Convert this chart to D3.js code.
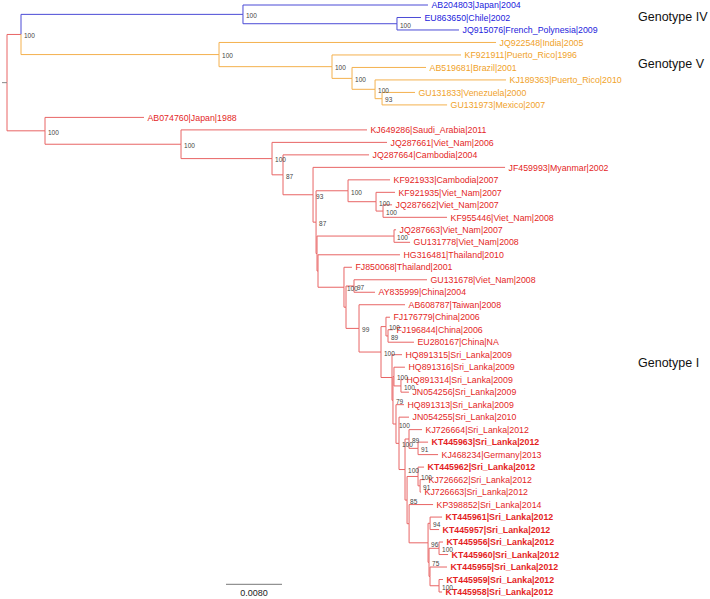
<!DOCTYPE html>
<html><head><meta charset="utf-8">
<script src="https://cdn.jsdelivr.net/npm/d3@7"></script>
<style>body{margin:0;background:#fff}svg{display:block}</style>
</head><body>
<svg id="c" width="710" height="599"></svg>
<script>
// Leaf labels, top to bottom
const taxa = [
"AB204803|Japan|2004","EU863650|Chile|2002","JQ915076|French_Polynesia|2009",
"JQ922548|India|2005","KF921911|Puerto_Rico|1996","AB519681|Brazil|2001",
"KJ189363|Puerto_Rico|2010","GU131833|Venezuela|2000","GU131973|Mexico|2007",
"AB074760|Japan|1988","KJ649286|Saudi_Arabia|2011","JQ287661|Viet_Nam|2006",
"JQ287664|Cambodia|2004","JF459993|Myanmar|2002","KF921933|Cambodia|2007",
"KF921935|Viet_Nam|2007","JQ287662|Viet_Nam|2007","KF955446|Viet_Nam|2008",
"JQ287663|Viet_Nam|2007","GU131778|Viet_Nam|2008","HG316481|Thailand|2010",
"FJ850068|Thailand|2001","GU131678|Viet_Nam|2008","AY835999|China|2004",
"AB608787|Taiwan|2008","FJ176779|China|2006","FJ196844|China|2006",
"EU280167|China|NA","HQ891315|Sri_Lanka|2009","HQ891316|Sri_Lanka|2009",
"HQ891314|Sri_Lanka|2009","JN054256|Sri_Lanka|2009","HQ891313|Sri_Lanka|2009",
"JN054255|Sri_Lanka|2010","KJ726664|Sri_Lanka|2012","KT445963|Sri_Lanka|2012",
"KJ468234|Germany|2013","KT445962|Sri_Lanka|2012","KJ726662|Sri_Lanka|2012",
"KJ726663|Sri_Lanka|2012","KP398852|Sri_Lanka|2014","KT445961|Sri_Lanka|2012",
"KT445957|Sri_Lanka|2012","KT445956|Sri_Lanka|2012","KT445960|Sri_Lanka|2012",
"KT445955|Sri_Lanka|2012","KT445959|Sri_Lanka|2012","KT445958|Sri_Lanka|2012"
];
const boldTaxa = ["KT445963","KT445962","KT445961","KT445957","KT445956","KT445960","KT445955","KT445959","KT445958"];

// [child, parent, branch length (substitutions/site)]
const edges = [
["B","root",0.00200],["Bl","B",0.03171],["AB204803","Bl",0.02643],["Bl2","Bl",0.02200],
["EU863650","Bl2",0.00343],["JQ915076","Bl2",0.00886],
["O","B",0.02829],["JQ922548","O",0.03957],["O2","O",0.01614],["KF921911","O2",0.01843],
["O3","O2",0.00286],["AB519681","O3",0.01057],["O4","O3",0.00329],["KJ189363","O4",0.01871],
["O5","O4",0.00100],["GU131833","O5",0.00471],["GU131973","O5",0.00929],
["G","root",0.00543],["AB074760","G",0.01414],["C1","G",0.01943],["KJ649286","C1",0.02657],
["C2","C1",0.01300],["JQ287661","C2",0.01643],["C3","C2",0.00157],["JQ287664","C3",0.01229],
["C4","C3",0.00429],["JF459993","C4",0.02743],["C5","C4",0.00043],
["D1","C5",0.00457],["KF921933","D1",0.00600],["D2","D1",0.00400],["KF921935","D2",0.00271],
["D3","D2",0.00100],["JQ287662","D3",0.00129],["KF955446","D3",0.00914],
["Z","C5",0.00014],["E1","Z",0.01100],["JQ287663","E1",0.00029],["GU131778","E1",0.00229],
["W","Z",0.00014],["HG316481","W",0.01171],["V","W",0.00371],["FJ850068","V",0.00114],
["V2","V",0.00029],["U","V2",0.00114],["GU131678","U",0.01043],["AY835999","U",0.00300],
["S","V2",0.00186],["AB608787","S",0.00657],["R","S",0.00314],
["P","R",0.00071],["FJ176779","P",0.00057],["P2","P",0.00029],["FJ196844","P2",0.00071],["EU280167","P2",0.00371],
["H3","R",0.00157],["HQ891315","H3",0.00143],["H2","H3",0.00014],
["R2","H2",0.00014],["HQ891316","R2",0.00157],["N1","R2",0.00100],["HQ891314","N1",0.00029],["JN054256","N1",0.00114],
["H1","H2",0.00043],["HQ891313","H1",0.00114],["I4","H1",0.00043],["JN054255","I4",0.00143],
["J3","I4",0.00086],["I2","J3",0.00057],["KJ726664","I2",0.00186],["I1","I2",0.00129],
["KT445963","I1",0.00143],["KJ468234","I1",0.00286],
["K8","J3",0.00029],["J2","K8",0.00157],["KT445962","J2",0.00086],["J1","J2",0.00029],
["KJ726662","J1",0.00071],["KJ726663","J1",0.00014],
["K7","K8",0.00029],["KP398852","K7",0.00343],["K6","K7",0.00271],
["K1","K6",0.00029],["KT445961","K1",0.00171],["KT445957","K1",0.00129],
["K5","K6",0.00014],["K2","K5",0.00143],["KT445956","K2",0.00057],["KT445960","K2",0.00129],
["K4","K5",0.00014],["KT445955","K4",0.00243],["K3","K4",0.00129],
["KT445959","K3",0.00057],["KT445958","K3",0.00043]
];

// bootstrap support per internal node
const support = [
["B",100],["Bl",100],["Bl2",100],["O",100],["O2",100],["O3",100],["O4",100],["O5",93],
["G",100],["C1",100],["C2",100],["C3",87],["C4",93],["C5",87],["D1",100],["D2",100],["D3",100],
["E1",100],["V",100],["U",97],["S",99],["R",100],["P",100],["P2",89],["H2",79],["R2",100],
["N1",100],["H1",100],["I4",100],["J3",100],["I2",89],["I1",91],["K8",85],["J2",100],["J1",91],
["K6",96],["K1",94],["K5",75],["K2",100],["K3",100]
];

// genotype clades: [label, clade node, row anchor]
const genotypes = [["Genotype IV","Bl",0.9],["Genotype V","O",4.65],["Genotype I","G",28.6]];
const scaleBarValue = 0.0080;

const lineColor = {"Genotype IV":"#4b4bd6","Genotype V":"#f4b14e","Genotype I":"#e86565"};
const textColor = {"Genotype IV":"#2323dc","Genotype V":"#f0a22a","Genotype I":"#e41f1f"};

const svg = d3.select("#c");
const font = "'Liberation Sans', Arial, Helvetica, sans-serif";

// build hierarchy
const objs = {root:{id:"root",length:0,children:[]}};
const get = id => objs[id] || (objs[id] = {id, length:0, children:[]});
edges.forEach(([c,p,l]) => { const co = get(c); co.length = l; get(p).children.push(co); });
const leafIndex = {};
taxa.forEach((t,i) => leafIndex[t.split("|")[0]] = i);
const root = d3.hierarchy(objs.root, d => d.children.length ? d.children : null);
root.eachAfter(d => { d.minIdx = d.children ? d3.min(d.children, c => c.minIdx) : leafIndex[d.data.id]; });
root.sort((a,b) => a.minIdx - b.minIdx);

const yS = d3.scaleLinear().domain([0, taxa.length-1]).range([5, 592]);
const xS = d3.scaleLinear().domain([0, 0.008]).range([7, 63]);

const cladeOf = {}; genotypes.forEach(g => cladeOf[g[1]] = g[0]);
root.eachBefore(d => {
  d.dist = (d.parent ? d.parent.dist : 0) + d.data.length;
  d.group = cladeOf[d.data.id] || (d.parent ? d.parent.group : "Genotype I");
});
root.eachAfter(d => {
  d.y = d.children ? (d.children[0].y + d.children[d.children.length-1].y)/2 : yS(leafIndex[d.data.id]);
});

// branches
const g = svg.append("g");
g.selectAll("path.br").data(root.descendants().filter(d => d.parent)).join("path")
  .attr("class","br")
  .attr("d", d => `M${xS(d.parent.dist)},${d.parent.y}V${d.y}H${xS(d.dist)}`)
  .attr("fill","none").attr("stroke", d => lineColor[d.group]).attr("stroke-width",1);
// root stub
g.append("line").attr("x1", xS(0)-5).attr("x2", xS(0)).attr("y1", root.y).attr("y2", root.y)
  .attr("stroke","#888").attr("stroke-width",1);

// tip labels
const bold = new Set(boldTaxa);
g.selectAll("text.tip").data(root.leaves()).join("text")
  .attr("class","tip")
  .attr("x", d => xS(d.dist) + 3.5).attr("y", d => d.y + 3.2)
  .attr("font-family", font).attr("font-size", 8.8)
  .attr("font-weight", d => bold.has(d.data.id) ? "bold" : "normal")
  .attr("fill", d => textColor[d.group])
  .text(d => taxa[leafIndex[d.data.id]]);

// support labels
const sup = new Map(support);
g.selectAll("text.bs").data(root.descendants().filter(d => d.children && sup.has(d.data.id))).join("text")
  .attr("class","bs")
  .attr("x", d => xS(d.dist) + 3).attr("y", d => d.y + 3.8)
  .attr("font-family", font).attr("font-size", 6.5).attr("fill","#444")
  .text(d => sup.get(d.data.id));

// genotype labels
svg.selectAll("text.gt").data(genotypes).join("text")
  .attr("class","gt").attr("x", 638).attr("y", d => yS(d[2]) + 4.5)
  .attr("font-family", font).attr("font-size", 12.5).attr("fill","#111")
  .text(d => d[0]);

// scale bar
const sbx = 226, sby = 584.3;
const sbw = xS(scaleBarValue) - xS(0);
svg.append("line").attr("x1", sbx).attr("x2", sbx + sbw).attr("y1", sby).attr("y2", sby)
  .attr("stroke","#777").attr("stroke-width",1);
svg.append("text").attr("x", sbx + sbw/2).attr("y", sby + 11.5).attr("text-anchor","middle")
  .attr("font-family", font).attr("font-size", 9).attr("fill","#222")
  .text(scaleBarValue.toFixed(4));
</script>
</body></html>
